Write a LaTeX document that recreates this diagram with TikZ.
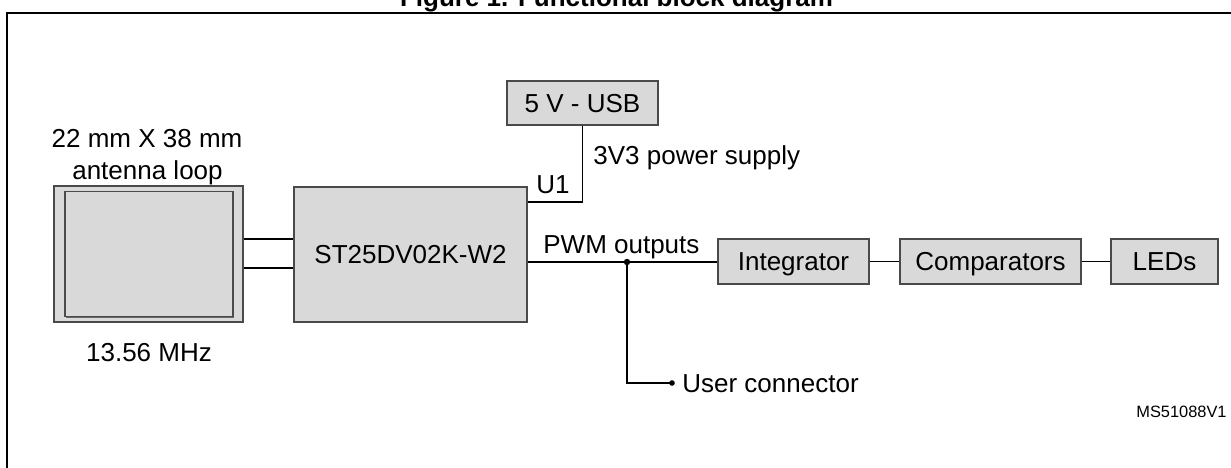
\documentclass[tikz,border=0pt]{standalone}
\usepackage{fontspec}
\setmainfont{Liberation Sans}
\usetikzlibrary{shadows}
\definecolor{boxfill}{HTML}{D9D9D9}
\definecolor{boxline}{HTML}{4A4A4A}
\tikzset{
  blk/.style={draw=boxline, fill=boxfill, line width=0.55pt, inner sep=0pt,
    text height=9.3pt, text depth=0pt,
    drop shadow={shadow xshift=0.6pt, shadow yshift=-0.6pt, fill=black!60, opacity=1},
    font=\fontsize{13}{15.6}\selectfont},
  lbl/.style={inner sep=0pt, font=\fontsize{13}{15.6}\selectfont},
  wire/.style={line width=0.65pt, black},
  jdot/.style={fill=black, draw=none}
}
\begin{document}
\begin{tikzpicture}[x=0.5pt, y=-0.5pt]
\useasboundingbox (0,0) rectangle (1231,467);
\clip (0,0) rectangle (1231,467);
\fill[white] (0,0) rectangle (1231,467);
% frame
\draw[line width=1.1pt] (7,480) -- (7,13) -- (1240,13);
% title
\node[lbl, anchor=base, font=\bfseries\fontsize{13}{15.6}\selectfont] (title) at (616.5,6) {Figure 1. Functional block diagram};
% antenna
\node[blk, minimum width=94.5pt, minimum height=68pt] (ant) at (148.5,254) {};
\node[blk, drop shadow={opacity=0}, minimum width=84pt, minimum height=62.5pt] (anti) at (149,254) {};
\node[lbl, anchor=base] (antt1) at (147,147) {22 mm X 38 mm};
\node[lbl, anchor=base] (antt2) at (147.5,179) {antenna loop};
\node[lbl, anchor=base] (freq) at (149,361) {13.56 MHz};
% chip
\node[blk, minimum width=116.5pt, minimum height=67.5pt] (st) at (410.5,254.5) {ST25DV02K-W2};
% usb
\node[blk, minimum width=75.5pt, minimum height=22pt] (usb) at (582.5,103) {5 V - USB};
% chain
\node[blk, minimum width=75.5pt, minimum height=22.5pt] (integ) at (793.5,261.5) {Integrator};
\node[blk, minimum width=90.5pt, minimum height=22.5pt] (comp) at (990.5,261.5) {Comparators};
\node[blk, minimum width=53.5pt, minimum height=22.5pt] (leds) at (1164.5,261.5) {LEDs};
% antenna to chip
\draw[wire] (ant.east |- 0,239) -- (st.west |- 0,239);
\draw[wire] (ant.east |- 0,268) -- (st.west |- 0,268);
% power
\draw[wire] (usb.south) -- (usb.south |- 0,202) -- (st.east |- 0,202);
\node[lbl, anchor=base east] (u1) at (570,193) {U1};
\node[lbl, anchor=base west] (pwr) at (593,164) {3V3 power supply};
% pwm
\coordinate (j) at (627,262);
\coordinate (uc) at (672,383);
\draw[wire] (st.east |- j) -- (integ.west |- j);
\draw[wire] (integ) -- (comp);
\draw[wire] (comp) -- (leds);
\draw[wire] (j) -- (j |- uc) -- (uc);
\fill[jdot] (j) circle (1.6pt);
\fill[jdot] (uc) circle (1.4pt);
\node[lbl, anchor=base west] (pwm) at (543,253) {PWM outputs};
\node[lbl, anchor=base west] (uct) at (682,392) {User connector};
\node[lbl, anchor=base east, font=\fontsize{8.2}{10}\selectfont] (ms) at (1227,417) {MS51088V1};
\end{tikzpicture}
\end{document}
